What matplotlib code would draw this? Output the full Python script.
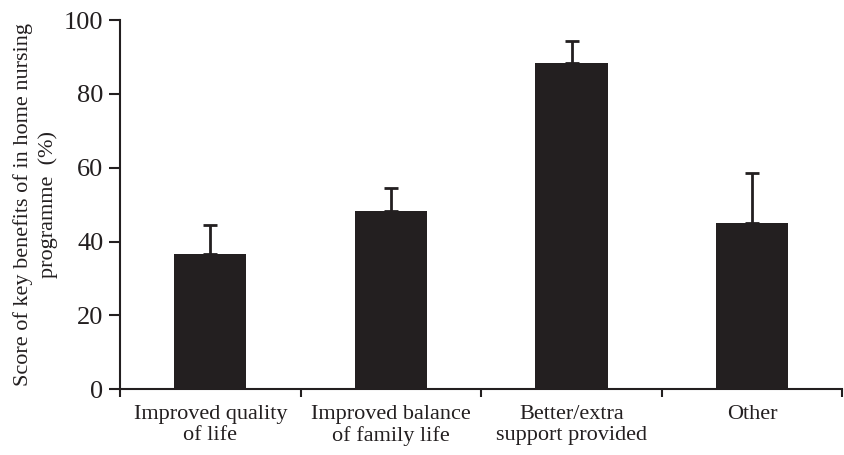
import matplotlib.pyplot as plt
import numpy as np

# Data
categories = ['Improved quality\nof life', 'Improved balance\nof family life',
              'Better/extra\nsupport provided', 'Other']
scores = [36.6, 48.4, 88.4, 45.1]
errors = [7.8, 6.1, 5.8, 13.4]

plt.rcParams['font.family'] = ['Liberation Serif', 'DejaVu Serif']

fig = plt.figure(figsize=(8.44, 4.55), dpi=100)
ax = fig.add_axes([0.1422, 0.1444, 0.856, 0.8116])

x = np.arange(len(categories))
bar_color = '#231f20'
ax.bar(x, scores, width=0.4, color=bar_color, zorder=2)
ax.errorbar(x, scores, yerr=[np.zeros(len(errors)), errors], fmt='none',
            ecolor=bar_color, elinewidth=2, capsize=5, capthick=2, zorder=3)

ax.set_xlim(-0.5, len(categories) - 0.5)
ax.set_ylim(0, 100)
ax.set_yticks(np.arange(0, 101, 20))

# boundary ticks on x, labels centred under bars
ax.set_xticks(np.arange(-0.5, len(categories), 1.0))
ax.set_xticklabels([])
ax.set_xticks(x, minor=True)
ax.set_xticklabels(categories, minor=True, fontsize=16, color=bar_color, linespacing=1.2)
ax.tick_params(axis='x', which='major', direction='out', length=6, width=1.5, color=bar_color)
ax.tick_params(axis='x', which='minor', length=0, pad=11)
ax.tick_params(axis='y', direction='out', length=8, width=1.5, labelsize=19,
               color=bar_color, labelcolor=bar_color, pad=4)

for side in ['top', 'right']:
    ax.spines[side].set_visible(False)
for side in ['left', 'bottom']:
    ax.spines[side].set_linewidth(1.5)
    ax.spines[side].set_color(bar_color)

ax.set_ylabel('Score of key benefits of in home nursing\nprogramme  (%)',
              fontsize=16, color=bar_color, labelpad=4, linespacing=1.35)

plt.savefig('out.png', dpi=100)
